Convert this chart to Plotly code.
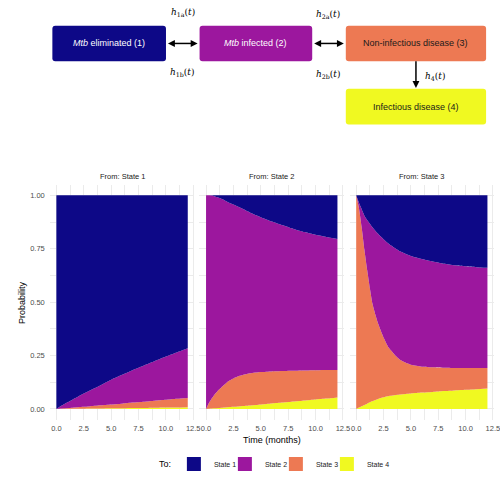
import plotly.graph_objects as go

# ---------------- data ----------------
time_months = [0, 0.25, 0.5, 0.75, 1, 1.5, 2, 2.5, 3, 4, 5, 6, 7, 8, 9, 10, 11, 12]
states = ["State 1", "State 2", "State 3", "State 4"]
state_colors = ["#0D0887", "#9C179E", "#ED7953", "#F0F921"]
panel_titles = ["From: State 1", "From: State 2", "From: State 3"]

# From State 1
from1_to1 = [1.0, 0.992, 0.984, 0.977, 0.969, 0.955, 0.941, 0.928, 0.915, 0.890, 0.863, 0.840, 0.817, 0.796, 0.775, 0.754, 0.735, 0.716]
from1_to2 = [0.0, 0.007, 0.014, 0.020, 0.027, 0.039, 0.051, 0.062, 0.073, 0.093, 0.116, 0.135, 0.153, 0.170, 0.186, 0.203, 0.217, 0.232]
from1_to3 = [0.0, 0.001, 0.002, 0.003, 0.003, 0.005, 0.007, 0.009, 0.010, 0.015, 0.018, 0.021, 0.025, 0.029, 0.033, 0.036, 0.041, 0.044]
from1_to4 = [0.0, 0.000, 0.000, 0.000, 0.001, 0.001, 0.001, 0.001, 0.002, 0.002, 0.003, 0.004, 0.005, 0.005, 0.006, 0.007, 0.007, 0.008]

# From State 2
from2_to1 = [0.0, 0.0, 0.001, 0.004, 0.008, 0.018, 0.032, 0.043, 0.055, 0.080, 0.102, 0.122, 0.140, 0.157, 0.172, 0.185, 0.195, 0.204]
from2_to2 = [1.0, 0.973, 0.951, 0.930, 0.911, 0.876, 0.839, 0.814, 0.791, 0.753, 0.725, 0.702, 0.682, 0.664, 0.648, 0.634, 0.623, 0.613]
from2_to3 = [0.0, 0.026, 0.046, 0.063, 0.077, 0.100, 0.121, 0.133, 0.142, 0.151, 0.152, 0.150, 0.148, 0.144, 0.140, 0.136, 0.133, 0.129]
from2_to4 = [0.0, 0.001, 0.002, 0.003, 0.004, 0.006, 0.008, 0.010, 0.012, 0.016, 0.021, 0.026, 0.030, 0.035, 0.040, 0.045, 0.049, 0.054]

# From State 3
from3_to1 = [0.0, 0.035, 0.065, 0.095, 0.115, 0.150, 0.180, 0.205, 0.228, 0.262, 0.284, 0.298, 0.310, 0.320, 0.327, 0.332, 0.336, 0.339]
from3_to2 = [0.0, 0.025, 0.085, 0.160, 0.235, 0.360, 0.420, 0.460, 0.487, 0.508, 0.509, 0.504, 0.495, 0.487, 0.481, 0.476, 0.472, 0.469]
from3_to3 = [1.0, 0.933, 0.837, 0.726, 0.625, 0.453, 0.353, 0.280, 0.224, 0.162, 0.134, 0.121, 0.115, 0.109, 0.105, 0.102, 0.099, 0.096]
from3_to4 = [0.0, 0.007, 0.013, 0.019, 0.025, 0.037, 0.047, 0.055, 0.061, 0.068, 0.073, 0.077, 0.080, 0.084, 0.087, 0.090, 0.093, 0.096]

x_ticks = [0, 2.5, 5, 7.5, 10, 12.5]
y_ticks = [0, 0.25, 0.5, 0.75, 1.0]

panels = [
    [from1_to1, from1_to2, from1_to3, from1_to4],
    [from2_to1, from2_to2, from2_to3, from2_to4],
    [from3_to1, from3_to2, from3_to3, from3_to4],
]

# ---------------- layout helpers ----------------
W, H = 500, 479
def px(x):
    return x / W
def py(y):
    return 1 - y / H

FONT = "Liberation Sans, Arial, sans-serif"
GRID = "#EBEBEB"
TXT = "#4D4D4D"

fig = go.Figure()

# stacked areas (bottom: State 4 ... top: State 1)
for p, vals in enumerate(panels):
    xa = "x" if p == 0 else f"x{p+1}"
    ya = "y" if p == 0 else f"y{p+1}"
    for s in [3, 2, 1, 0]:
        fig.add_trace(go.Scatter(
            x=time_months, y=vals[s], xaxis=xa, yaxis=ya,
            mode="lines", stackgroup=f"p{p}",
            line=dict(width=0, shape="spline", smoothing=0.6),
            fillcolor=state_colors[s], showlegend=False, hoverinfo="skip",
        ))

# legend entries
for s in range(4):
    fig.add_trace(go.Scatter(
        x=[None], y=[None], mode="markers", name=states[s],
        marker=dict(symbol="square", size=14, color=state_colors[s],
                    line=dict(width=0)),
        showlegend=True,
    ))
# invisible spacer entry so the last label is not clipped
fig.add_trace(go.Scatter(
    x=[None], y=[None], mode="markers", name=" ",
    marker=dict(size=1, color="rgba(0,0,0,0)"), showlegend=True, hoverinfo="skip",
))

# panel domains (pixels)
x_domains = [(50.4, 196.7), (201.9, 348.2), (353.9, 500.0)]
y_dom = [py(425), py(187)]

axis_common = dict(
    showline=False, zeroline=False, ticks="",
    showgrid=True, gridcolor=GRID, gridwidth=1,
)
layout_axes = {}
for p in range(3):
    xk = "xaxis" if p == 0 else f"xaxis{p+1}"
    yk = "yaxis" if p == 0 else f"yaxis{p+1}"
    xa = "x" if p == 0 else f"x{p+1}"
    ya = "y" if p == 0 else f"y{p+1}"
    layout_axes[xk] = dict(
        axis_common, domain=[px(x_domains[p][0]), px(x_domains[p][1])],
        range=[-0.6, 12.6], anchor=ya, tickvals=x_ticks, tickformat=".1f",
        tickfont=dict(family=FONT, size=7.5, color=TXT), ticklabelstandoff=3,
        ticklabeloverflow="allow",
        minor=dict(dtick=1.25, tick0=0, showgrid=True, gridcolor=GRID, gridwidth=0.5),
    )
    layout_axes[yk] = dict(
        axis_common, domain=y_dom, range=[-0.05, 1.05], anchor=xa,
        tickvals=y_ticks, tickformat=".2f", showticklabels=(p == 0),
        tickfont=dict(family=FONT, size=7.5, color=TXT), ticklabelstandoff=4,
        minor=dict(dtick=0.125, tick0=0, showgrid=True, gridcolor=GRID, gridwidth=0.5),
    )

# ---------------- diagram ----------------
def rounded_rect(x0, y0, x1, y1, r=3):
    X0, X1 = px(x0), px(x1)
    Y0, Y1 = py(y0), py(y1)
    rx, ry = r / W, r / H
    return (f"M{X0+rx},{Y0} L{X1-rx},{Y0} Q{X1},{Y0} {X1},{Y0-ry} "
            f"L{X1},{Y1+ry} Q{X1},{Y1} {X1-rx},{Y1} L{X0+rx},{Y1} "
            f"Q{X0},{Y1} {X0},{Y1+ry} L{X0},{Y0-ry} Q{X0},{Y0} {X0+rx},{Y0} Z")

def tri(tip, base_c, half):
    (tx, ty), (bx, by) = tip, base_c
    if tx == bx:
        p1, p2 = (bx - half, by), (bx + half, by)
    else:
        p1, p2 = (bx, by - half), (bx, by + half)
    return (f"M{px(tx)},{py(ty)} L{px(p1[0])},{py(p1[1])} "
            f"L{px(p2[0])},{py(p2[1])} Z")

boxes = [
    ((53, 26, 168, 62), state_colors[0], "<i>Mtb</i> eliminated (1)", "white"),
    ((202, 26, 316, 62), state_colors[1], "<i>Mtb</i> infected (2)", "white"),
    ((350, 26, 492, 62), state_colors[2], "Non-infectious disease (3)", "#1a1a1a"),
    ((350, 90, 492, 126), state_colors[3], "Infectious disease (4)", "#1a1a1a"),
]
shapes = []
annotations = []
for (x0, y0, x1, y1), col, label, tcol in boxes:
    shapes.append(dict(type="path", path=rounded_rect(x0, y0, x1, y1),
                       xref="paper", yref="paper", fillcolor=col,
                       line=dict(width=0), layer="above"))
    annotations.append(dict(x=px((x0 + x1) / 2), y=py((y0 + y1) / 2),
                            xref="paper", yref="paper", text=label,
                            showarrow=False, font=dict(family=FONT, size=9, color=tcol),
                            xanchor="center", yanchor="middle"))

# arrows (line + filled heads)
HL, HW = 7, 3.5
for (x0, x1, y) in [(170, 200, 44), (318, 348, 44)]:
    shapes.append(dict(type="line", xref="paper", yref="paper",
                       x0=px(x0 + 3), x1=px(x1 - 3), y0=py(y), y1=py(y),
                       line=dict(color="black", width=1.5)))
    for path in (tri((x0, y), (x0 + HL, y), HW), tri((x1, y), (x1 - HL, y), HW)):
        shapes.append(dict(type="path", path=path, xref="paper", yref="paper",
                           fillcolor="black", line=dict(width=0)))
shapes.append(dict(type="line", xref="paper", yref="paper",
                   x0=px(421), x1=px(421), y0=py(62), y1=py(85),
                   line=dict(color="black", width=1.5)))
shapes.append(dict(type="path", path=tri((421, 89), (421, 89 - HL), HW),
                   xref="paper", yref="paper", fillcolor="black", line=dict(width=0)))

rate_labels = [
    (185, 13, "<i>h</i><sub>1a</sub>(<i>t</i>)"),
    (185, 73, "<i>h</i><sub>1b</sub>(<i>t</i>)"),
    (332, 15, "<i>h</i><sub>2a</sub>(<i>t</i>)"),
    (332, 75, "<i>h</i><sub>2b</sub>(<i>t</i>)"),
    (440, 77, "<i>h</i><sub>4</sub>(<i>t</i>)"),
]
for x, y, t in rate_labels:
    annotations.append(dict(x=px(x), y=py(y), xref="paper", yref="paper", text=t,
                            showarrow=False, font=dict(family="DejaVu Serif", size=9, color="black"),
                            xanchor="center", yanchor="middle"))

# facet titles
for p in range(3):
    cx = (x_domains[p][0] + x_domains[p][1]) / 2
    annotations.append(dict(x=px(cx), y=py(179), xref="paper", yref="paper",
                            text=panel_titles[p], showarrow=False,
                            font=dict(family=FONT, size=7.5, color="#1a1a1a"),
                            xanchor="center", yanchor="middle"))

# axis titles and legend title
annotations.append(dict(x=px(275), y=py(446), xref="paper", yref="paper",
                        text="Time (months)", showarrow=False,
                        font=dict(family=FONT, size=9, color="black"),
                        xanchor="center", yanchor="middle"))
annotations.append(dict(x=px(22), y=py(306), xref="paper", yref="paper",
                        text="Probability", showarrow=False, textangle=-90,
                        font=dict(family=FONT, size=9, color="black"),
                        xanchor="center", yanchor="middle"))
annotations.append(dict(x=px(167), y=py(470), xref="paper", yref="paper",
                        text="To:", showarrow=False,
                        font=dict(family=FONT, size=9, color="black"),
                        xanchor="center", yanchor="middle"))

fig.update_layout(
    width=W, height=H, margin=dict(l=0, r=0, t=0, b=0),
    paper_bgcolor="white", plot_bgcolor="white",
    shapes=shapes, annotations=annotations,
    showlegend=True,
    legend=dict(orientation="h", x=px(176), xanchor="left", y=py(470), yanchor="middle",
                font=dict(family=FONT, size=7, color="#1a1a1a"),
                entrywidth=6, entrywidthmode="pixels",
                itemsizing="trace", traceorder="normal", bgcolor="rgba(0,0,0,0)"),
    **layout_axes,
)

post = (
    "var s=document.createElement('style');"
    "s.textContent='html,body{margin:0;padding:0;overflow:hidden;width:500px;height:479px;}';"
    "document.head.appendChild(s);"
)
fig.write_html(
    "out.html",
    config={"displayModeBar": False},
    post_script=post,
)
